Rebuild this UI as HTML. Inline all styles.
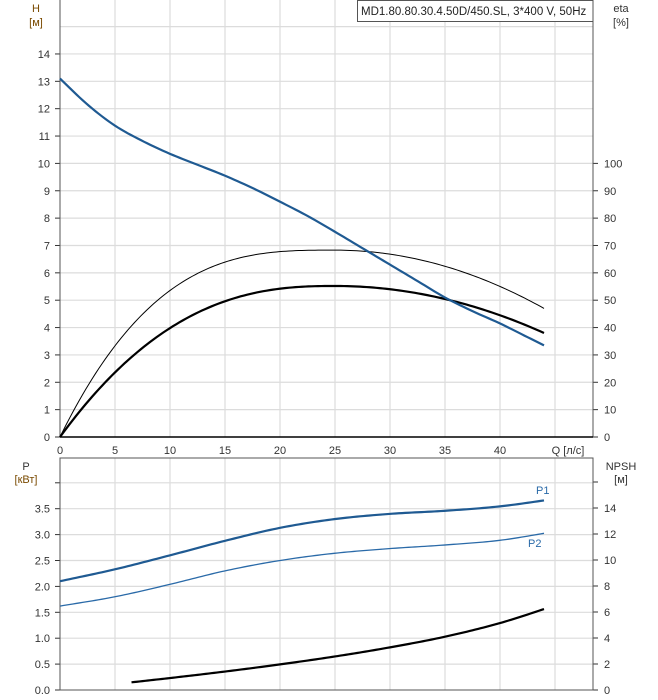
<!DOCTYPE html>
<html><head><meta charset="utf-8"><style>
body{margin:0;background:#fff}
svg{display:block;font-family:"Liberation Sans",sans-serif;font-size:11px}
</style></head><body>
<svg id="s" width="658" height="700" xmlns="http://www.w3.org/2000/svg">
<g id="grid" stroke="#dcdcdc" stroke-width="1.2"></g>
<g id="ax"></g>
<rect x="357.5" y="0.5" width="235.5" height="21" fill="#fff" stroke="#555"/>
<text x="361" y="15" font-size="11.5" fill="#222">MD1.80.80.30.4.50D/450.SL, 3*400 V, 50Hz</text>
<text x="36" y="12" text-anchor="middle" fill="#7a4a00">H</text>
<text x="36" y="26" text-anchor="middle" fill="#7a4a00">[м]</text>
<text x="621" y="12" text-anchor="middle" fill="#333">eta</text>
<text x="621" y="26" text-anchor="middle" fill="#333">[%]</text>
<text x="26" y="470" text-anchor="middle" fill="#333">P</text>
<text x="26" y="483" text-anchor="middle" fill="#7a4a00">[кВт]</text>
<text x="621" y="470" text-anchor="middle" fill="#333">NPSH</text>
<text x="621" y="483" text-anchor="middle" fill="#333">[м]</text>
<text x="568" y="454" text-anchor="middle" fill="#333">Q [л/с]</text>
<text x="536" y="494" fill="#2a6aa8">P1</text>
<text x="528" y="547" fill="#2a6aa8">P2</text>
<g id="curves" fill="none"></g>
</svg>
<script>
var X0=60,K=11,R=593;
var HY=function(h){return 437-h*27.36};
var PY=function(p){return 690-p*51.8};
var NY=function(n){return 690-n*13};
var g=document.getElementById('grid'),a=document.getElementById('ax'),c=document.getElementById('curves');
var s='',t='';
for(var q=5;q<=45;q+=5){var x=X0+q*K;s+='<line x1="'+x+'" y1="0" x2="'+x+'" y2="437"/><line x1="'+x+'" y1="458" x2="'+x+'" y2="690"/>';
t+='<text x="'+x+'" y="454" text-anchor="middle" fill="#333">'+(q<45?q:'')+'</text>';}
t+='<text x="'+X0+'" y="454" text-anchor="middle" fill="#333">0</text>';
for(var h=1;h<=15;h++){var y=HY(h);s+='<line x1="60" y1="'+y+'" x2="'+R+'" y2="'+y+'"/>';}
for(var h=0;h<=14;h++){var y=HY(h);t+='<text x="50" y="'+(y+4)+'" text-anchor="end" fill="#333">'+h+'</text><line x1="55" y1="'+y+'" x2="60" y2="'+y+'" stroke="#333"/>';}
for(var e=0;e<=100;e+=10){var y=HY(e/10);t+='<text x="604" y="'+(y+4)+'" fill="#333">'+e+'</text><line x1="'+R+'" y1="'+y+'" x2="'+(R+5)+'" y2="'+y+'" stroke="#333"/>';}
for(var p=0.5;p<=4.0;p+=0.5){var y=PY(p);s+='<line x1="60" y1="'+y+'" x2="'+R+'" y2="'+y+'"/>';}
for(var p=0;p<=4.01;p+=0.5){var y=PY(p);t+='<line x1="55" y1="'+y+'" x2="60" y2="'+y+'" stroke="#333"/>';if(p<3.9)t+='<text x="50" y="'+(y+4)+'" text-anchor="end" fill="#333">'+p.toFixed(1)+'</text>';}
for(var n=0;n<=16;n+=2){var y=NY(n);t+='<line x1="'+R+'" y1="'+y+'" x2="'+(R+5)+'" y2="'+y+'" stroke="#333"/>';if(n<16)t+='<text x="604" y="'+(y+4)+'" fill="#333">'+n+'</text>';}
t+='<line x1="60" y1="0" x2="60" y2="437" stroke="#555"/><line x1="'+R+'" y1="0" x2="'+R+'" y2="437" stroke="#555"/><line x1="60" y1="437" x2="'+R+'" y2="437" stroke="#000" stroke-width="1.5"/>';
t+='<rect x="60" y="458" width="'+(R-60)+'" height="232" fill="none" stroke="#555"/>';
g.innerHTML=s;a.innerHTML=t;
function poly(f,q0,q1,fy){var d='';for(var i=0;i<=150;i++){var q=q0+(q1-q0)*i/150;d+=(i?'L':'M')+(X0+q*K).toFixed(2)+','+fy(f(q)).toFixed(2);}return d;}
function interp(x0,h,v){return function(q){
 var n=v.length;var i=Math.min(n-2,Math.max(0,Math.floor((q-x0)/h)));
 var t=(q-x0)/h-i;
 var p1=v[i],p2=v[i+1],p0=i>0?v[i-1]:2*p1-p2,p3=i+2<n?v[i+2]:2*p2-p1;
 return 0.5*((2*p1)+(-p0+p2)*t+(2*p0-5*p1+4*p2-p3)*t*t+(-p0+3*p1-3*p2+p3)*t*t*t);};}
var E=44;
var Hf=interp(0,2.5,[13.1,12.15,11.38,10.82,10.35,9.95,9.55,9.1,8.6,8.08,7.5,6.9,6.3,5.7,5.1,4.6,4.15,3.65,3.15]);
function etaF(M,pl,cr){return function(q){if(q<25){var u=1-q/25;return M*(1-Math.pow(u,pl));}return M-cr*(q-25)*(q-25);};}
var e1=etaF(68.3,3.0,0.059);
var e2=etaF(55.2,2.5,0.0476);
var P1=interp(0,5,[2.1,2.33,2.6,2.88,3.13,3.3,3.4,3.46,3.545,3.69]);
var P2=interp(0,5,[1.62,1.8,2.04,2.3,2.5,2.64,2.73,2.8,2.89,3.06]);
var N=interp(5,5,[0.45,0.92,1.42,1.97,2.58,3.28,4.1,5.15,6.5]);
c.innerHTML='<path d="'+poly(e1,0,E,function(v){return HY(v/10)})+'" stroke="#000" stroke-width="1"/>'+
'<path d="'+poly(e2,0,E,function(v){return HY(v/10)})+'" stroke="#000" stroke-width="2.2"/>'+
'<path d="'+poly(Hf,0,E,HY)+'" stroke="#1f5a92" stroke-width="2.2"/>'+
'<path d="'+poly(P1,0,E,PY)+'" stroke="#1f5a92" stroke-width="2.2"/>'+
'<path d="'+poly(P2,0,E,PY)+'" stroke="#2a6aa8" stroke-width="1.3"/>'+
'<path d="'+poly(N,6.5,E,NY)+'" stroke="#000" stroke-width="2.2"/>';
</script>
</body></html>
